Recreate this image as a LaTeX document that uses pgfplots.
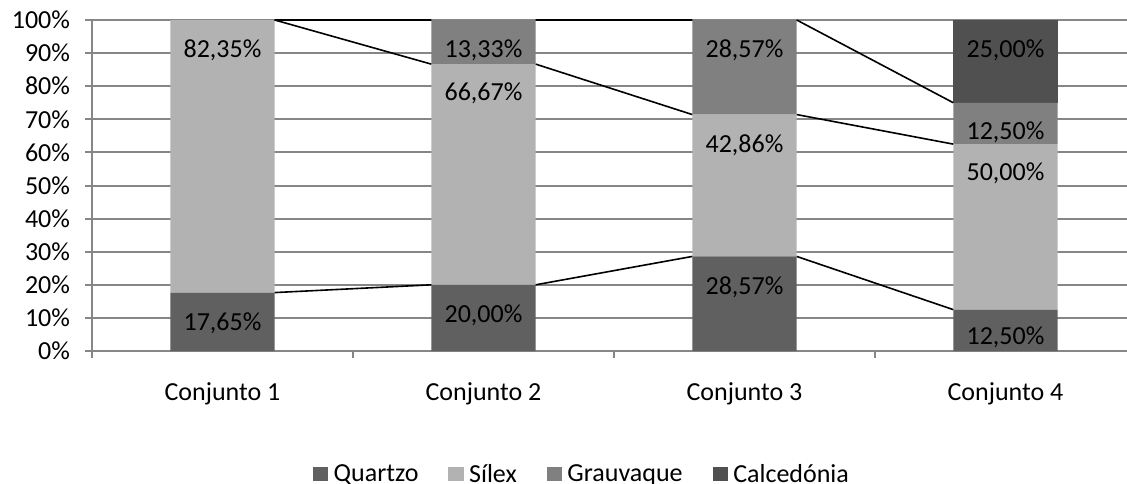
\documentclass[border=0pt]{standalone}
\usepackage{pgfplots}
\pgfplotsset{compat=1.18}
\usepackage{fontspec}
\setmainfont{Carlito}
\definecolor{cQ}{HTML}{606060}
\definecolor{cS}{HTML}{B2B2B2}
\definecolor{cG}{HTML}{808080}
\definecolor{cC}{HTML}{505050}
\definecolor{gridgray}{HTML}{868686}
\newcommand{\chartfont}{\fontsize{19.5}{23}\selectfont}
\pgfplotstableread{
x y label
1 90.9 82,35\%
1 8.5 17,65\%
2 90.9 13,33\%
2 77.9 66,67\%
2 10.9 20,00\%
3 90.9 28,57\%
3 62.2 42,86\%
3 19.3 28,57\%
4 90.9 25,00\%
4 66.2 12,50\%
4 53.8 50,00\%
4 4.2 12,50\%
}\labeltable
\begin{document}
\begin{tikzpicture}
\pgfplotsset{common/.style={scale only axis, width=783pt, height=248.25pt,
  xmin=0.5, xmax=4.5, ymin=0, ymax=100, at={(0,0)}, anchor=south west}}
\begin{axis}[common,
  ybar stacked, bar width=0.4,
  axis x line*=bottom, axis y line*=left,
  axis line style={gridgray, line width=1.5pt, -},
  tick align=outside,
  /pgf/number format/assume math mode=true,
  ytick={0,10,...,100},
  yticklabel={\pgfmathprintnumber{\tick}\%},
  ymajorgrids, grid style={gridgray, line width=1.5pt},
  tick style={gridgray, line width=1.5pt},
  major tick length=5pt,
  xtick={0.5,1.5,2.5,3.5,4.5}, xticklabels={},
  extra x ticks={1,2,3,4},
  extra x tick labels={Conjunto 1,Conjunto 2,Conjunto 3,Conjunto 4},
  extra x tick style={major tick length=0pt, xticklabel style={anchor=center, yshift=-32pt}},
  tick label style={font=\chartfont, text=black},
  yticklabel style={anchor=east, xshift=-8pt},
  legend columns=4,
  legend style={at={(rel axis cs:0.2117,-0.3716)}, anchor=west, draw=none, fill=none,
    inner sep=0pt, outer sep=0pt, font=\chartfont,
    nodes={inner sep=0pt, outer sep=0pt},
    /tikz/every odd column/.append style={column sep=4pt},
    /tikz/every even column/.append style={column sep=22.5pt}},
  legend cell align=left,
]
\addplot[fill=cQ, draw=none, legend image code/.code={\fill[cQ] (0pt,-5.5pt) rectangle (11.5pt,5.5pt);}] coordinates {(1,17.65) (2,20) (3,28.57) (4,12.5)};
\addlegendentry{Quartzo}
\addplot[fill=cS, draw=none, legend image code/.code={\fill[cS] (0pt,-5.5pt) rectangle (11.5pt,5.5pt);}] coordinates {(1,82.35) (2,66.67) (3,42.86) (4,50)};
\addlegendentry{Sílex}
\addplot[fill=cG, draw=none, legend image code/.code={\fill[cG] (0pt,-5.5pt) rectangle (11.5pt,5.5pt);}] coordinates {(1,0) (2,13.33) (3,28.57) (4,12.5)};
\addlegendentry{Grauvaque}
\addplot[fill=cC, draw=none, legend image code/.code={\fill[cC] (0pt,-5.5pt) rectangle (11.5pt,5.5pt);}] coordinates {(1,0) (2,0) (3,0) (4,25)};
\addlegendentry{Calcedónia}
\end{axis}
\begin{axis}[common, hide axis, clip=false]
\addplot[black, line width=1.2pt, mark=none, unbounded coords=jump] coordinates {(1.2,17.65) (1.8,20) (2,nan) (2.2,20) (2.8,28.57) (3,nan) (3.2,28.57) (3.8,12.5)};
\addplot[black, line width=1.2pt, mark=none, unbounded coords=jump] coordinates {(1.2,100) (1.8,86.67) (2,nan) (2.2,86.67) (2.8,71.43) (3,nan) (3.2,71.43) (3.8,62.5)};
\addplot[black, line width=1.2pt, mark=none, unbounded coords=jump] coordinates {(1.2,100) (1.8,100) (2,nan) (2.2,100) (2.8,100) (3,nan) (3.2,100) (3.8,75)};
\addplot[draw=none, mark=none, nodes near coords, point meta=explicit symbolic,
  every node near coord/.style={anchor=center, font=\chartfont, text=black, inner sep=0pt}]
  table[x=x, y=y, meta=label] {\labeltable};
\end{axis}
\pgfresetboundingbox
\path (-69pt,-99pt) rectangle (776.25pt,263.25pt);
\end{tikzpicture}
\end{document}
